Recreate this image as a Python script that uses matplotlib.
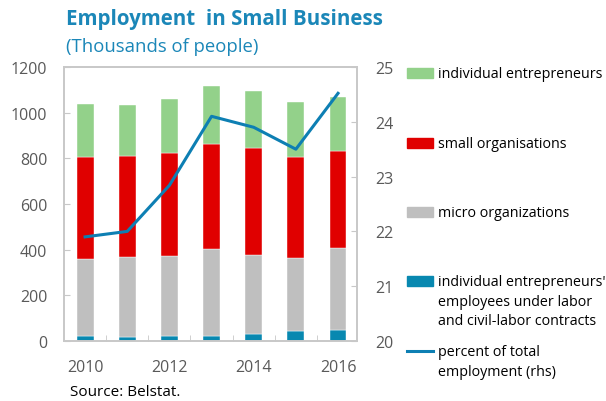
import matplotlib.pyplot as plt
import matplotlib.patches as mpatches
from matplotlib.lines import Line2D
import numpy as np

plt.rcParams.update({
    'font.family': ['Open Sans', 'DejaVu Sans'],
    'figure.dpi': 100,
})

years = [2010, 2011, 2012, 2013, 2014, 2015, 2016]
ie_employees = [20, 16, 20, 20, 29, 42, 47]
micro_orgs = [337, 352, 352, 383, 347, 320, 362]
small_orgs = [447, 442, 453, 461, 471, 442, 425]
indiv_entr = [233, 223, 236, 252, 250, 243, 235]
pct_total = [21.9, 22.0, 22.84, 24.1, 23.9, 23.5, 24.52]

C_TEAL = '#0888b0'
C_GREY = '#bfbfbf'
C_RED = '#e00000'
C_GREEN = '#93d18a'
C_LINE = '#0d7fb3'
C_TITLE = '#1b87b8'
C_TICK = '#595959'
C_FRAME = '#c8c8c8'

fig = plt.figure(figsize=(6.06, 4.02))
ax = fig.add_axes([64 / 606, 1 - 342 / 402, 293 / 606, 274 / 402])
ax2 = ax.twinx()

x = np.array(years)
w = 0.4
b1 = np.array(ie_employees)
b2 = b1 + np.array(micro_orgs)
b3 = b2 + np.array(small_orgs)
ax.bar(x, ie_employees, w, color=C_TEAL, edgecolor='white', linewidth=0.3)
ax.bar(x, micro_orgs, w, bottom=b1, color=C_GREY, edgecolor='white', linewidth=0.3)
ax.bar(x, small_orgs, w, bottom=b2, color=C_RED, edgecolor='white', linewidth=0.3)
ax.bar(x, indiv_entr, w, bottom=b3, color=C_GREEN, edgecolor='white', linewidth=0.3)

ax2.plot(x, pct_total, color=C_LINE, linewidth=2.2)

ax.set_xlim(2009.5, 2016.45)
ax.set_ylim(0, 1200)
ax.set_yticks(range(0, 1201, 200))
ax2.set_ylim(20, 25)
ax2.set_yticks(range(20, 26))

ax.set_xticks([2010, 2012, 2014, 2016])
ax.set_xticks(np.arange(2010.5, 2016, 1), minor=True)
ax.tick_params(axis='x', which='major', length=0, labelsize=11.5, colors=C_TICK, pad=13)
ax.tick_params(axis='x', which='minor', length=4, direction='in', color=C_FRAME)
ax.tick_params(axis='y', length=4, direction='in', color=C_FRAME, labelsize=11.5,
               labelcolor=C_TICK, pad=12)
ax2.tick_params(axis='y', length=4, direction='in', color=C_FRAME, labelsize=11.5,
                labelcolor=C_TICK, pad=13)

for a in (ax, ax2):
    for s in a.spines.values():
        s.set_color(C_FRAME)
        s.set_linewidth(1.2)

fig.text(66 / 606, 1 - 20 / 402, 'Employment  in Small Business', fontsize=14.8,
         fontweight='bold', color=C_TITLE, va='center', ha='left')
fig.text(66 / 606, 1 - 47 / 402, '(Thousands of people)', fontsize=13.3,
         color=C_TITLE, va='center', ha='left')
fig.text(70 / 606, 1 - 393 / 402, 'Source: Belstat.', fontsize=11,
         color='black', va='center', ha='left')

# legend, drawn by hand on the right
leg = [
    ('patch', C_GREEN, 'individual entrepreneurs', 74),
    ('patch', C_RED, 'small organisations', 144),
    ('patch', C_GREY, 'micro organizations', 213),
    ('patch', C_TEAL, "individual entrepreneurs'\nemployees under labor\nand civil-labor contracts", 282),
    ('line', C_LINE, 'percent of total\nemployment (rhs)', 352),
]
for kind, col, lab, yy in leg:
    yf = 1 - yy / 402
    if kind == 'patch':
        fig.add_artist(mpatches.Rectangle((407 / 606, yf - 5 / 402), 26 / 606, 10 / 402,
                                          color=col, transform=fig.transFigure))
    else:
        fig.add_artist(Line2D([407 / 606, 433 / 606], [yf, yf], color=col, linewidth=2.2,
                              transform=fig.transFigure))
    fig.text(438 / 606, yf + 7 / 402, lab, fontsize=10.3, color='black',
             va='top', ha='left', linespacing=1.42)

plt.savefig('out.png', dpi=100)
